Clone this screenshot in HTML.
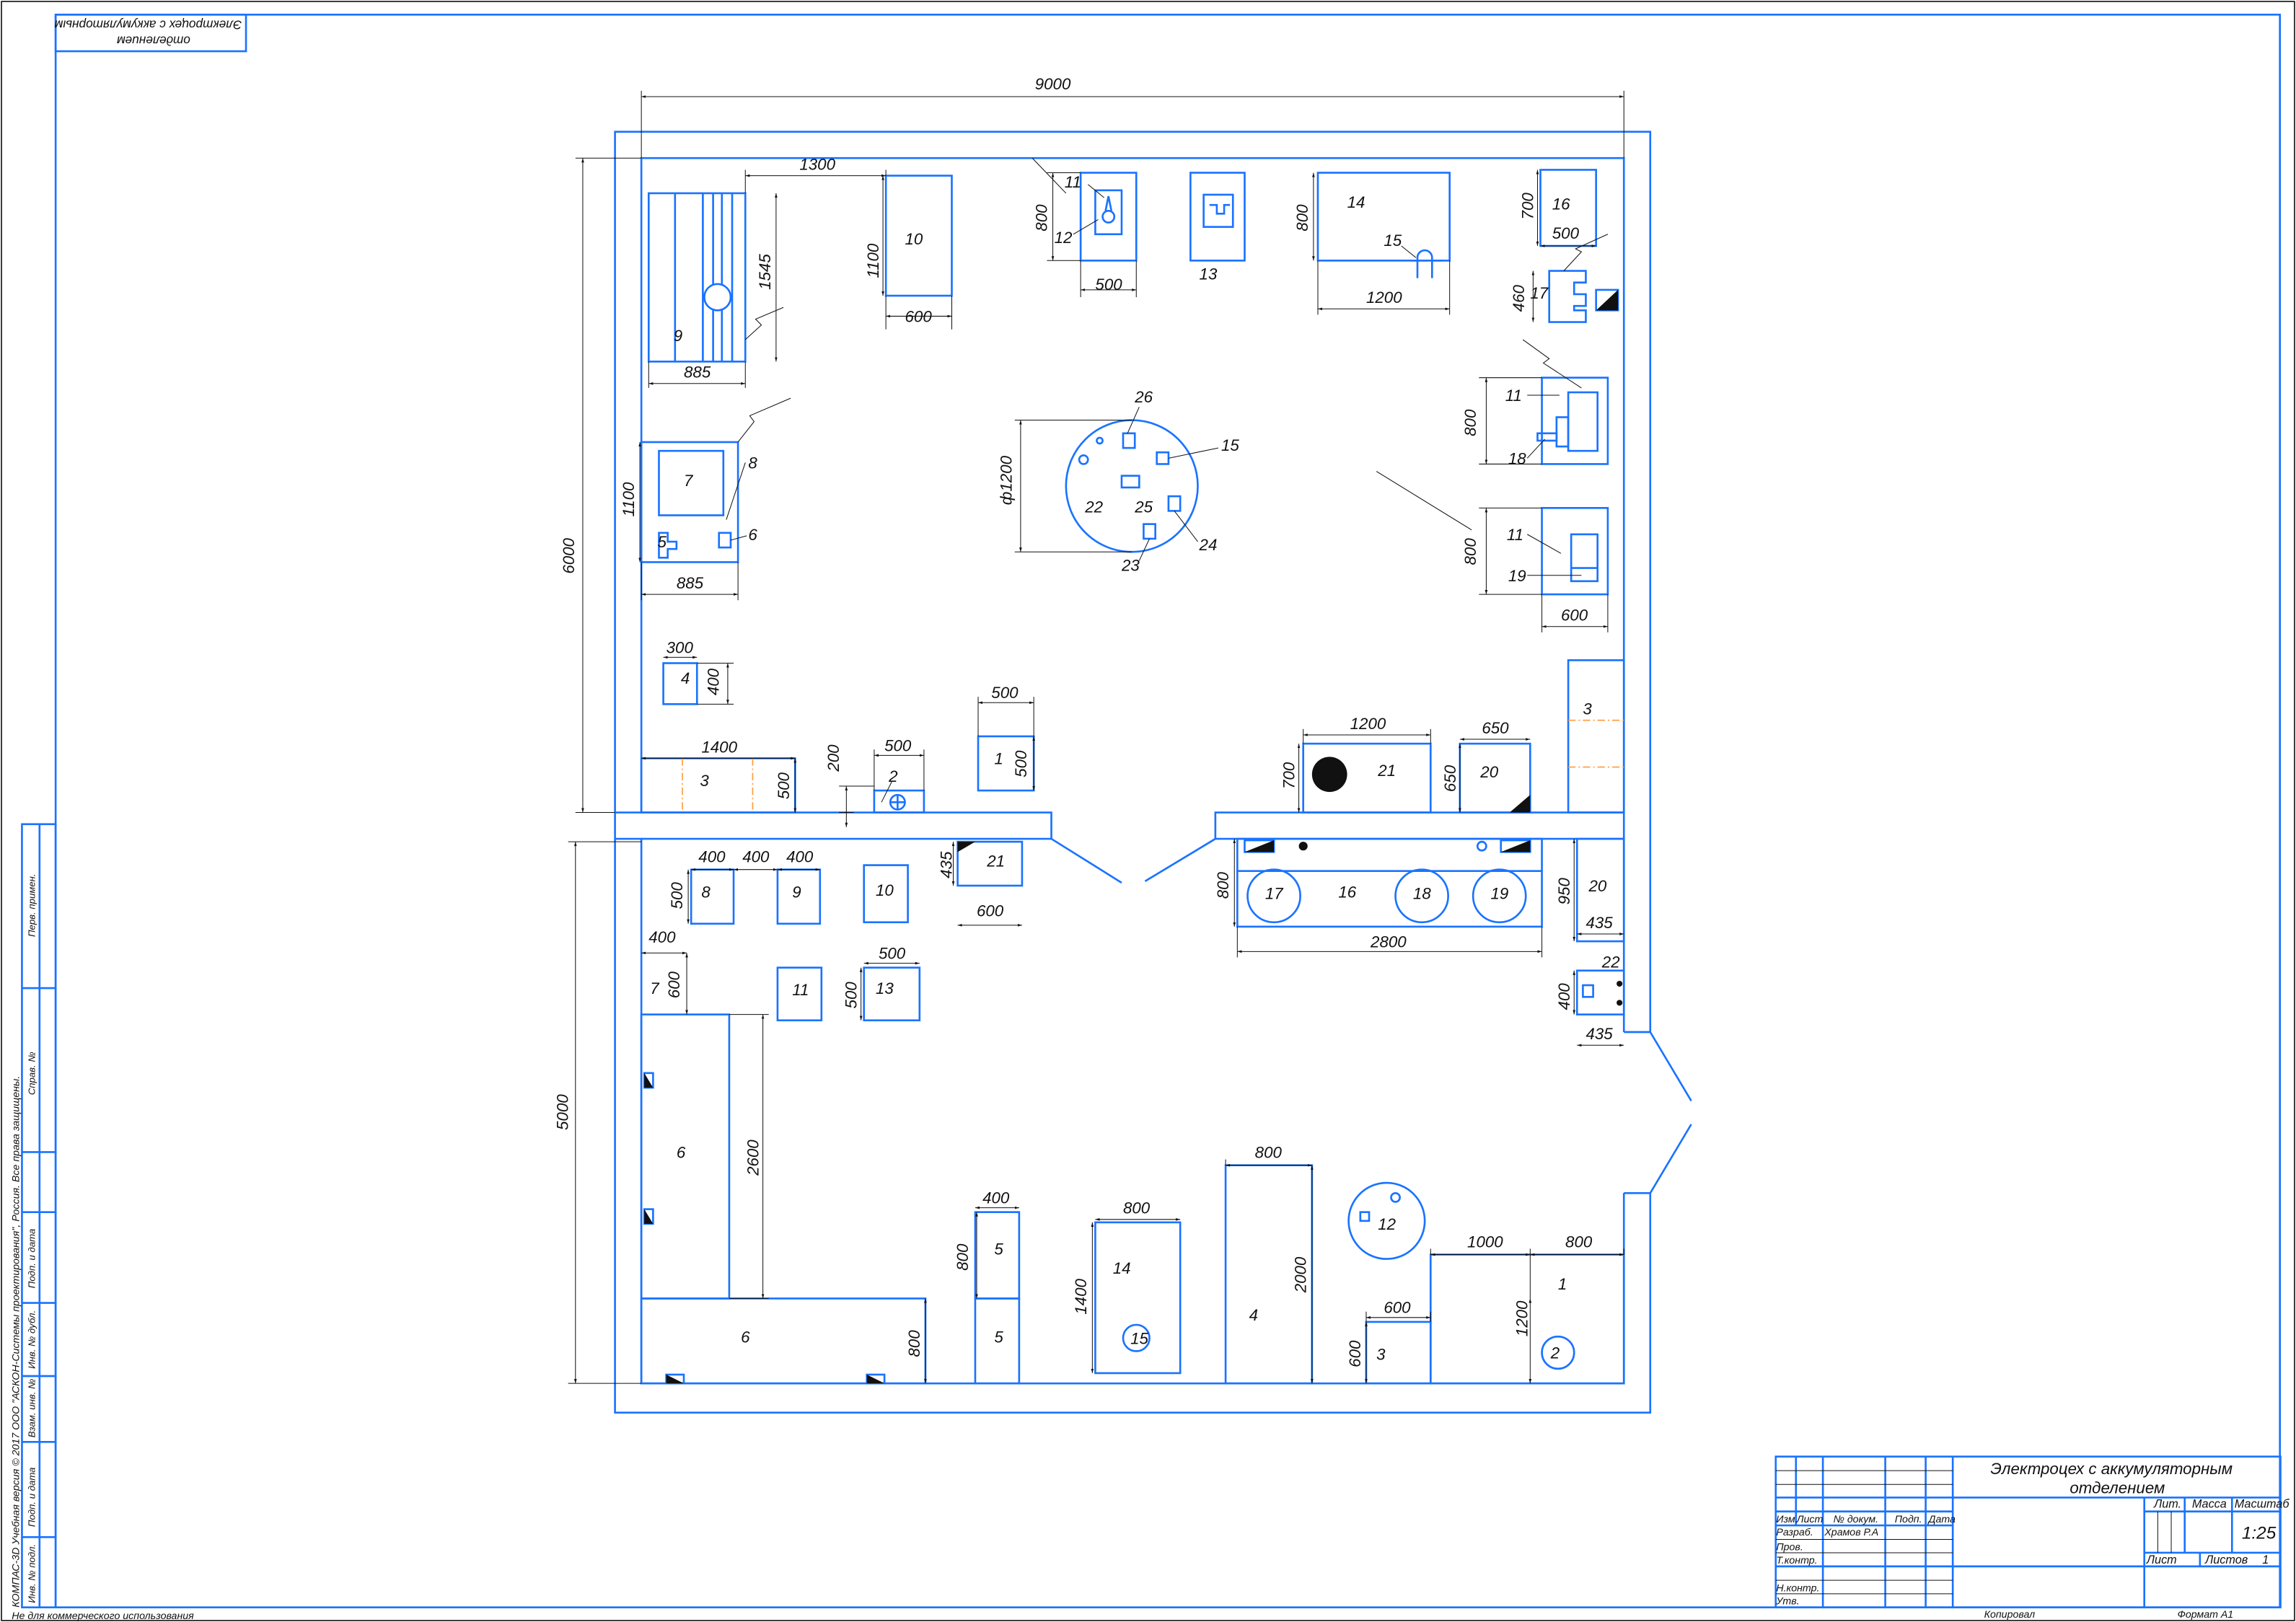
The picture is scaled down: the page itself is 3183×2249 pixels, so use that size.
<!DOCTYPE html>
<html><head><meta charset="utf-8"><style>
html,body{margin:0;padding:0;background:#fff;}
svg{display:block;}
text{font-family:"Liberation Sans","DejaVu Sans",sans-serif;font-style:italic;fill:#111;}
</style></head><body>
<svg width="3183" height="2249" viewBox="0 0 1568 1108" preserveAspectRatio="none" xmlns="http://www.w3.org/2000/svg">
<defs>
<marker id="a" viewBox="0 0 10 10" refX="10" refY="5" markerWidth="6" markerHeight="6" orient="auto-start-reverse"><path d="M0,2 L10,5 L0,8 z" fill="#111"/></marker>
</defs>
<rect x="0" y="0" width="1568" height="1108" fill="#fff"/>
<rect x="1" y="1" width="1566" height="1106" fill="none" stroke="#111" stroke-width="0.8"/>
<!-- frame -->
<g fill="none" stroke="#1a73ff" stroke-width="1.3">
<rect x="38" y="10" width="1519" height="1088"/>
<rect x="38" y="10" width="130" height="25"/>
<!-- left stamp -->
<rect x="15" y="563" width="23" height="535"/>
<line x1="27" y1="563" x2="27" y2="1098"/>
<line x1="15" y1="675" x2="38" y2="675"/>
<line x1="15" y1="787" x2="38" y2="787"/>
<line x1="15" y1="828" x2="38" y2="828"/>
<line x1="15" y1="890" x2="38" y2="890"/>
<line x1="15" y1="940" x2="38" y2="940"/>
<line x1="15" y1="985" x2="38" y2="985"/>
<line x1="15" y1="1050" x2="38" y2="1050"/>
<!-- title block -->
<rect x="1212.7" y="995" width="344.7" height="103"/>
<line x1="1226.5" y1="995" x2="1226.5" y2="1042"/>
<line x1="1244.9" y1="995" x2="1244.9" y2="1098"/>
<line x1="1287.5" y1="995" x2="1287.5" y2="1098"/>
<line x1="1315.1" y1="995" x2="1315.1" y2="1098"/>
<line x1="1333.6" y1="995" x2="1333.6" y2="1098"/>
<line x1="1212.7" y1="1023" x2="1333.6" y2="1023"/>
<line x1="1212.7" y1="1032.5" x2="1333.6" y2="1032.5"/>
<line x1="1212.7" y1="1042" x2="1333.6" y2="1042"/>
<line x1="1212.7" y1="1070" x2="1333.6" y2="1070"/>
<line x1="1333.6" y1="1023" x2="1557.4" y2="1023"/>
<line x1="1333.6" y1="1070" x2="1557.4" y2="1070"/>
<line x1="1464.4" y1="1023" x2="1464.4" y2="1098"/>
<line x1="1492" y1="1023" x2="1492" y2="1060.7"/>
<line x1="1524.3" y1="1023" x2="1524.3" y2="1060.7"/>
<line x1="1464.4" y1="1032.5" x2="1557.4" y2="1032.5"/>
<line x1="1464.4" y1="1060.7" x2="1557.4" y2="1060.7"/>
<line x1="1502.4" y1="1060.7" x2="1502.4" y2="1070"/>
</g>
<g stroke="#111" stroke-width="0.5">
<line x1="1212.7" y1="1004.6" x2="1333.6" y2="1004.6"/>
<line x1="1212.7" y1="1014" x2="1333.6" y2="1014"/>
<line x1="1212.7" y1="1051.6" x2="1333.6" y2="1051.6"/>
<line x1="1212.7" y1="1060.7" x2="1333.6" y2="1060.7"/>
<line x1="1212.7" y1="1079.5" x2="1333.6" y2="1079.5"/>
<line x1="1212.7" y1="1088.7" x2="1333.6" y2="1088.7"/>
<line x1="1473.6" y1="1032.5" x2="1473.6" y2="1060.7"/>
<line x1="1482.8" y1="1032.5" x2="1482.8" y2="1060.7"/>
</g>
<g font-size="7">
<text x="1213" y="1040">Изм.</text><text x="1227" y="1040">Лист</text><text x="1252" y="1040">№ докум.</text><text x="1294" y="1040">Подп.</text><text x="1317" y="1040">Дата</text>
<text x="1213" y="1049">Разраб.</text><text x="1246" y="1049">Храмов Р.А</text>
<text x="1213" y="1059">Пров.</text><text x="1213" y="1068">Т.контр.</text>
<text x="1213" y="1087">Н.контр.</text><text x="1213" y="1096">Утв.</text>
<text x="1471" y="1030" font-size="8">Лит.</text><text x="1497" y="1030" font-size="8">Масса</text><text x="1526" y="1030" font-size="8">Масштаб</text>
<text x="1466" y="1068" font-size="8">Лист</text><text x="1506" y="1068" font-size="8">Листов</text><text x="1545" y="1068" font-size="8">1</text>
</g>
<text x="1531" y="1051" font-size="12">1:25</text>
<text x="1442" y="1007" font-size="11" text-anchor="middle">Электроцех с аккумуляторным</text>
<text x="1446" y="1020" font-size="11" text-anchor="middle">отделением</text>
<text x="1355" y="1105" font-size="7">Копировал</text>
<text x="1487" y="1105" font-size="7">Формат      А1</text>
<text x="8" y="1106" font-size="7">Не для коммерческого использования</text>
<text transform="translate(13,1098) rotate(-90)" font-size="7">КОМПАС-3D Учебная версия © 2017 ООО "АСКОН-Системы проектирования", Россия. Все права защищены.</text>
<g font-size="6.5">
<text transform="translate(24,640) rotate(-90)">Перв. примен.</text>
<text transform="translate(24,748) rotate(-90)">Справ. №</text>
<text transform="translate(24,880) rotate(-90)">Подп. и дата</text>
<text transform="translate(24,935) rotate(-90)">Инв. № дубл.</text>
<text transform="translate(24,982) rotate(-90)">Взам. инв. №</text>
<text transform="translate(24,1043) rotate(-90)">Подп. и дата</text>
<text transform="translate(24,1095) rotate(-90)">Инв. № подл.</text>
</g>
<text transform="translate(165,14) rotate(180)" font-size="8.5">Электроцех с аккумуляторным</text>
<text transform="translate(130,25) rotate(180)" font-size="8.5">отделением</text>

<!-- walls -->
<g fill="none" stroke="#1a73ff" stroke-width="1.3">
<polyline points="1127,705 1127,90 420,90 420,965 1127,965 1127,815"/>
<polyline points="1109,705 1109,108 438,108 438,555 420,555"/>
<polyline points="1109,815 1109,945 438,945 438,573 420,573"/>
<polyline points="438,555 718,555 718,573 438,573"/>
<polyline points="1109,555 830,555 830,573 1109,573"/>
<line x1="1109" y1="705" x2="1127" y2="705"/><line x1="1109" y1="815" x2="1127" y2="815"/>
<line x1="718" y1="573" x2="766" y2="603"/><line x1="830" y1="573" x2="782" y2="602"/>
<line x1="1127" y1="705" x2="1155" y2="752"/><line x1="1127" y1="815" x2="1155" y2="768"/>

<!-- 9 -->
<rect x="443" y="132" width="66" height="115"/>
<line x1="461" y1="132" x2="461" y2="247"/><line x1="480" y1="132" x2="480" y2="247"/><line x1="487" y1="132" x2="487" y2="247"/><line x1="493" y1="132" x2="493" y2="247"/><line x1="500" y1="132" x2="500" y2="247"/>
<circle cx="490" cy="203" r="9" fill="#fff"/>
<!-- 10 -->
<rect x="605" y="120" width="45" height="82"/>
<!-- 11/12 -->
<rect x="738" y="118" width="38" height="60"/>
<rect x="748" y="130" width="18" height="30"/>
<circle cx="757" cy="148" r="4"/><path d="M755,144 L757,134 L759,144"/>
<!-- 13 -->
<rect x="813" y="118" width="37" height="60"/>
<rect x="822" y="133" width="20" height="22"/><path d="M826,140 h5 v6 h5 v-6 h4"/>
<!-- 14 -->
<rect x="900" y="118" width="90" height="60"/>
<path d="M968,190 v-14 a5,5 0 0 1 10,0 v14"/><line x1="963" y1="178" x2="985" y2="178"/>
<!-- 16 -->
<rect x="1052" y="116" width="38" height="52"/>
<!-- 17 -->
<path d="M1058,185 h25 v8 h-8 v8 h8 v8 h-8 v3 h8 v8 h-25 z"/>
<rect x="1090" y="198" width="15" height="14"/>
<!-- 11/18 -->
<rect x="1053" y="258" width="45" height="59"/>
<rect x="1071" y="268" width="20" height="40"/><rect x="1063" y="285" width="8" height="20"/><rect x="1050" y="296" width="13" height="5"/>
<!-- 11/19 -->
<rect x="1053" y="347" width="45" height="59"/>
<rect x="1073" y="365" width="18" height="32"/><line x1="1073" y1="388" x2="1091" y2="388"/>
<!-- 22 circle -->
<circle cx="773" cy="332" r="45"/>
<rect x="767" y="296" width="8" height="10"/><rect x="790" y="309" width="8" height="8"/><rect x="766" y="325" width="12" height="8"/>
<rect x="781" y="358" width="8" height="10"/><rect x="798" y="339" width="8" height="10"/>
<circle cx="740" cy="314" r="3"/><circle cx="751" cy="301" r="2"/>
<!-- 7/8 block -->
<rect x="438" y="302" width="66" height="82"/>
<rect x="450" y="308" width="44" height="44"/>
<rect x="491" y="364" width="8" height="10"/>
<path d="M450,364 h6 v6 h6 v5 h-6 v6 h-6 z"/>
<!-- 4 -->
<rect x="453" y="453" width="23" height="28"/>
<!-- 3 left -->
<rect x="438" y="518" width="105" height="37"/>
<!-- 2 -->
<rect x="597" y="540" width="34" height="15"/>
<circle cx="613" cy="548" r="5"/><line x1="608" y1="548" x2="618" y2="548"/><line x1="613" y1="543" x2="613" y2="553"/>
<!-- 1 -->
<rect x="668" y="503" width="38" height="37"/>
<!-- 21 right -->
<rect x="890" y="508" width="87" height="47"/>
<!-- 20 right -->
<rect x="997" y="508" width="48" height="47"/>
<!-- 3 right -->
<rect x="1071" y="451" width="38" height="104"/>
<!-- lower -->
<rect x="472" y="594" width="29" height="37"/>
<rect x="531" y="594" width="29" height="37"/>
<rect x="590" y="591" width="30" height="39"/>
<rect x="654" y="575" width="44" height="30"/>
<rect x="531" y="661" width="30" height="36"/>
<rect x="590" y="661" width="38" height="36"/>
<rect x="438" y="693" width="60" height="194"/>
<rect x="438" y="887" width="194" height="58"/>
<rect x="666" y="828" width="30" height="59"/>
<rect x="666" y="887" width="30" height="58"/>
<rect x="748" y="835" width="58" height="103"/>
<circle cx="776" cy="914" r="9"/>
<rect x="837" y="796" width="59" height="149"/>
<circle cx="947" cy="834" r="26"/><rect x="929" y="828" width="6" height="6"/><circle cx="953" cy="818" r="3"/>
<rect x="933" y="903" width="44" height="42"/>
<rect x="977" y="857" width="132" height="88"/>
<circle cx="1064" cy="924" r="11"/>
<rect x="845" y="573" width="208" height="60"/>
<line x1="845" y1="595" x2="1053" y2="595"/>
<circle cx="870" cy="612" r="18"/><circle cx="971" cy="612" r="18"/><circle cx="1024" cy="612" r="18"/>
<rect x="850" y="574" width="20" height="8"/><rect x="1025" y="574" width="20" height="8"/>
<circle cx="1012" cy="578" r="3"/>
<rect x="1077" y="573" width="32" height="70"/>
<rect x="1077" y="663" width="32" height="30"/>
<rect x="1081" y="673" width="7" height="8"/>
<rect x="440" y="733" width="6" height="10"/><rect x="440" y="826" width="6" height="10"/>
<rect x="455" y="939" width="12" height="6"/><rect x="592" y="939" width="12" height="6"/>
</g>
<!-- black fills -->
<g fill="#111">
<circle cx="908" cy="529" r="12"/>
<circle cx="890" cy="578" r="3"/>
<circle cx="1106" cy="672" r="2"/><circle cx="1106" cy="685" r="2"/>
<path d="M1090,212 L1105,198 L1105,212 z"/>
<path d="M1031,555 L1045,543 L1045,555 z"/>
<path d="M654,582 L654,575 L666,575 z"/>
<path d="M850,582 L870,574 L870,582 z"/><path d="M1025,582 L1045,574 L1045,582 z"/>
<path d="M440,733 L446,743 L440,743 z"/><path d="M440,826 L446,836 L440,836 z"/>
<path d="M455,939 L467,945 L455,945 z"/><path d="M592,939 L604,945 L592,945 z"/>
</g>
<!-- orange centerlines -->
<g stroke="#ff9a3c" stroke-width="0.8" stroke-dasharray="5,2,1,2">
<line x1="466" y1="518" x2="466" y2="555"/><line x1="514" y1="518" x2="514" y2="555"/>
<line x1="1071" y1="492" x2="1109" y2="492"/><line x1="1071" y1="524" x2="1109" y2="524"/>
</g>

<!-- dimension lines -->
<g stroke="#111" stroke-width="0.5" fill="none">
<g marker-start="url(#a)" marker-end="url(#a)">
<line x1="438" y1="66" x2="1109" y2="66"/>
<line x1="398" y1="108" x2="398" y2="555"/>
<line x1="393" y1="575" x2="393" y2="945"/>
<line x1="443" y1="262" x2="509" y2="262"/>
<line x1="530" y1="132" x2="530" y2="247"/>
<line x1="509" y1="120" x2="605" y2="120"/>
<line x1="603" y1="120" x2="603" y2="202"/>
<line x1="605" y1="216" x2="650" y2="216"/>
<line x1="719" y1="118" x2="719" y2="178"/>
<line x1="738" y1="198" x2="776" y2="198"/>
<line x1="897" y1="118" x2="897" y2="178"/>
<line x1="900" y1="211" x2="990" y2="211"/>
<line x1="1050" y1="116" x2="1050" y2="168"/>
<line x1="1052" y1="168" x2="1090" y2="168"/>
<line x1="1047" y1="185" x2="1047" y2="220"/>
<line x1="1015" y1="258" x2="1015" y2="317"/>
<line x1="1015" y1="347" x2="1015" y2="406"/>
<line x1="1053" y1="428" x2="1098" y2="428"/>
<line x1="697" y1="287" x2="697" y2="377"/>
<line x1="438" y1="406" x2="504" y2="406"/>
<line x1="437" y1="302" x2="437" y2="384"/>
<line x1="453" y1="449" x2="476" y2="449"/>
<line x1="497" y1="453" x2="497" y2="481"/>
<line x1="438" y1="518" x2="543" y2="518"/>
<line x1="543" y1="518" x2="543" y2="555"/>
<line x1="597" y1="516" x2="631" y2="516"/>
<line x1="668" y1="480" x2="706" y2="480"/>
<line x1="706" y1="503" x2="706" y2="540"/>
<line x1="890" y1="502" x2="977" y2="502"/>
<line x1="887" y1="508" x2="887" y2="555"/>
<line x1="997" y1="505" x2="1045" y2="505"/>
<line x1="997" y1="508" x2="997" y2="555"/>
<line x1="472" y1="594" x2="501" y2="594"/>
<line x1="501" y1="594" x2="531" y2="594"/>
<line x1="531" y1="594" x2="560" y2="594"/>
<line x1="470" y1="594" x2="470" y2="631"/>
<line x1="651" y1="575" x2="651" y2="605"/>
<line x1="654" y1="632" x2="698" y2="632"/>
<line x1="438" y1="651" x2="469" y2="651"/>
<line x1="469" y1="651" x2="469" y2="693"/>
<line x1="590" y1="658" x2="628" y2="658"/>
<line x1="588" y1="661" x2="588" y2="697"/>
<line x1="521" y1="693" x2="521" y2="887"/>
<line x1="632" y1="887" x2="632" y2="945"/>
<line x1="666" y1="825" x2="696" y2="825"/>
<line x1="667" y1="828" x2="667" y2="887"/>
<line x1="748" y1="833" x2="806" y2="833"/>
<line x1="746" y1="835" x2="746" y2="938"/>
<line x1="837" y1="796" x2="896" y2="796"/>
<line x1="896" y1="796" x2="896" y2="945"/>
<line x1="933" y1="900" x2="977" y2="900"/>
<line x1="933" y1="903" x2="933" y2="945"/>
<line x1="977" y1="857" x2="1045" y2="857"/>
<line x1="1045" y1="857" x2="1109" y2="857"/>
<line x1="1045" y1="887" x2="1045" y2="945"/>
<line x1="845" y1="650" x2="1053" y2="650"/>
<line x1="843" y1="573" x2="843" y2="633"/>
<line x1="1075" y1="573" x2="1075" y2="643"/>
<line x1="1077" y1="638" x2="1109" y2="638"/>
<line x1="1075" y1="663" x2="1075" y2="693"/>
<line x1="1077" y1="714" x2="1109" y2="714"/>
<line x1="578" y1="537" x2="578" y2="565"/>
</g>
<line x1="438" y1="62" x2="438" y2="108"/><line x1="1109" y1="62" x2="1109" y2="108"/>
<line x1="393" y1="108" x2="438" y2="108"/><line x1="393" y1="555" x2="420" y2="555"/>
<line x1="388" y1="575" x2="438" y2="575"/><line x1="388" y1="945" x2="438" y2="945"/>
<line x1="443" y1="247" x2="443" y2="265"/><line x1="509" y1="247" x2="509" y2="265"/>
<line x1="509" y1="116" x2="509" y2="132"/><line x1="605" y1="116" x2="605" y2="120"/>
<line x1="605" y1="202" x2="605" y2="225"/><line x1="650" y1="202" x2="650" y2="225"/>
<line x1="738" y1="178" x2="738" y2="203"/><line x1="776" y1="178" x2="776" y2="203"/>
<line x1="715" y1="118" x2="738" y2="118"/><line x1="715" y1="178" x2="738" y2="178"/>
<line x1="900" y1="178" x2="900" y2="215"/><line x1="990" y1="178" x2="990" y2="215"/>
<line x1="1010" y1="258" x2="1053" y2="258"/><line x1="1010" y1="317" x2="1053" y2="317"/>
<line x1="1010" y1="347" x2="1053" y2="347"/><line x1="1010" y1="406" x2="1053" y2="406"/>
<line x1="1053" y1="406" x2="1053" y2="432"/><line x1="1098" y1="406" x2="1098" y2="432"/>
<line x1="693" y1="287" x2="773" y2="287"/><line x1="693" y1="377" x2="773" y2="377"/>
<line x1="438" y1="384" x2="438" y2="410"/><line x1="504" y1="384" x2="504" y2="410"/>
<line x1="476" y1="453" x2="501" y2="453"/><line x1="476" y1="481" x2="501" y2="481"/>
<line x1="573" y1="537" x2="597" y2="537"/><line x1="573" y1="555" x2="583" y2="555"/>
<line x1="597" y1="512" x2="597" y2="540"/><line x1="631" y1="512" x2="631" y2="540"/>
<line x1="668" y1="476" x2="668" y2="503"/><line x1="706" y1="476" x2="706" y2="503"/>
<line x1="890" y1="498" x2="890" y2="508"/><line x1="977" y1="498" x2="977" y2="508"/>
<line x1="845" y1="633" x2="845" y2="654"/><line x1="1053" y1="633" x2="1053" y2="654"/>
<line x1="498" y1="693" x2="525" y2="693"/><line x1="498" y1="887" x2="525" y2="887"/>
<line x1="977" y1="853" x2="977" y2="857"/><line x1="1045" y1="853" x2="1045" y2="887"/><line x1="1109" y1="853" x2="1109" y2="857"/>
<line x1="933" y1="896" x2="933" y2="903"/><line x1="977" y1="896" x2="977" y2="903"/>
<line x1="837" y1="792" x2="837" y2="796"/>
<!-- leaders -->
<polyline points="509,232 520,222 516,218 535,210"/>
<polyline points="504,302 515,288 512,284 540,272"/>
<polyline points="1040,232 1058,245 1054,248 1080,265"/>
<polyline points="1068,185 1080,172 1076,170 1098,160"/>
<line x1="940" y1="322" x2="1005" y2="362"/>
<line x1="705" y1="108" x2="728" y2="132"/>
<line x1="733" y1="160" x2="750" y2="150"/>
<line x1="743" y1="126" x2="754" y2="135"/>
<line x1="1043" y1="270" x2="1065" y2="270"/><line x1="1043" y1="313" x2="1055" y2="300"/>
<line x1="1043" y1="365" x2="1066" y2="378"/><line x1="1043" y1="393" x2="1080" y2="393"/>
<line x1="957" y1="168" x2="967" y2="176"/>
<line x1="509" y1="316" x2="496" y2="355"/><line x1="510" y1="366" x2="499" y2="369"/>
<line x1="602" y1="548" x2="609" y2="534"/>
<line x1="770" y1="296" x2="778" y2="278"/><line x1="798" y1="313" x2="832" y2="306"/>
<line x1="802" y1="349" x2="818" y2="370"/><line x1="785" y1="368" x2="778" y2="383"/>
</g>

<!-- labels -->
<g font-size="11">
<text x="719" y="61" text-anchor="middle">9000</text>
<text transform="translate(392,392) rotate(-90)" text-anchor="start">6000</text>
<text transform="translate(388,772) rotate(-90)">5000</text>
<text x="546" y="116">1300</text>
<text x="467" y="258">885</text>
<text transform="translate(526,198) rotate(-90)">1545</text>
<text x="460" y="233">9</text>
<text x="618" y="167">10</text>
<text transform="translate(600,190) rotate(-90)">1100</text>
<text x="618" y="220">600</text>
<text x="727" y="128">11</text><text x="720" y="166">12</text>
<text transform="translate(715,158) rotate(-90)">800</text>
<text x="748" y="198">500</text>
<text x="819" y="191">13</text>
<text x="920" y="142">14</text><text x="945" y="168">15</text>
<text transform="translate(893,158) rotate(-90)">800</text>
<text x="933" y="207">1200</text>
<text x="1060" y="143">16</text>
<text transform="translate(1047,150) rotate(-90)">700</text>
<text x="1060" y="163">500</text>
<text x="1045" y="204">17</text>
<text transform="translate(1041,213) rotate(-90)">460</text>
<text x="1028" y="274">11</text><text x="1030" y="317">18</text>
<text transform="translate(1008,298) rotate(-90)">800</text>
<text x="1029" y="369">11</text><text x="1030" y="397">19</text>
<text transform="translate(1008,386) rotate(-90)">800</text>
<text x="1066" y="424">600</text>
<text transform="translate(691,345) rotate(-90)">ф1200</text>
<text x="775" y="275">26</text><text x="834" y="308">15</text><text x="775" y="350">25</text>
<text x="741" y="350">22</text><text x="766" y="390">23</text><text x="819" y="376">24</text>
<text x="467" y="332">7</text><text x="511" y="320">8</text><text x="511" y="369">6</text><text x="449" y="374">5</text>
<text transform="translate(433,353) rotate(-90)">1100</text>
<text x="462" y="402">885</text>
<text x="455" y="446">300</text>
<text x="465" y="467">4</text>
<text transform="translate(491,475) rotate(-90)">400</text>
<text x="479" y="514">1400</text>
<text x="478" y="537">3</text>
<text transform="translate(539,546) rotate(-90)">500</text>
<text transform="translate(573,527) rotate(-90)">200</text>
<text x="604" y="513">500</text>
<text x="607" y="534">2</text>
<text x="677" y="477">500</text>
<text x="679" y="522">1</text>
<text transform="translate(701,531) rotate(-90)">500</text>
<text x="922" y="498">1200</text>
<text transform="translate(884,539) rotate(-90)">700</text>
<text x="941" y="530">21</text>
<text x="1012" y="501">650</text>
<text transform="translate(994,541) rotate(-90)">650</text>
<text x="1011" y="531">20</text>
<text x="1081" y="488">3</text>
<text x="477" y="589">400</text><text x="507" y="589">400</text><text x="537" y="589">400</text>
<text x="479" y="613">8</text><text x="541" y="613">9</text><text x="598" y="612">10</text>
<text transform="translate(466,621) rotate(-90)">500</text>
<text transform="translate(650,600) rotate(-90)">435</text>
<text x="674" y="592">21</text>
<text x="667" y="626">600</text>
<text x="443" y="644">400</text>
<text x="444" y="679">7</text>
<text transform="translate(464,682) rotate(-90)">600</text>
<text x="541" y="680">11</text>
<text x="598" y="679">13</text>
<text x="600" y="655">500</text>
<text transform="translate(585,689) rotate(-90)">500</text>
<text x="462" y="791">6</text>
<text transform="translate(518,803) rotate(-90)">2600</text>
<text x="506" y="917">6</text>
<text transform="translate(628,927) rotate(-90)">800</text>
<text x="671" y="822">400</text>
<text transform="translate(661,868) rotate(-90)">800</text>
<text x="679" y="857">5</text><text x="679" y="917">5</text>
<text x="767" y="829">800</text>
<text transform="translate(742,898) rotate(-90)">1400</text>
<text x="760" y="870">14</text><text x="772" y="918">15</text>
<text x="857" y="791">800</text>
<text transform="translate(892,883) rotate(-90)">2000</text>
<text x="853" y="902">4</text>
<text x="941" y="840">12</text>
<text x="945" y="897">600</text>
<text transform="translate(929,934) rotate(-90)">600</text>
<text x="940" y="929">3</text>
<text x="1002" y="852">1000</text>
<text x="1069" y="852">800</text>
<text x="1064" y="881">1</text>
<text transform="translate(1043,913) rotate(-90)">1200</text>
<text x="1059" y="928">2</text>
<text x="936" y="647">2800</text>
<text transform="translate(839,614) rotate(-90)">800</text>
<text x="864" y="614">17</text><text x="914" y="613">16</text><text x="965" y="614">18</text><text x="1018" y="614">19</text>
<text transform="translate(1072,618) rotate(-90)">950</text>
<text x="1085" y="609">20</text>
<text x="1083" y="634">435</text>
<text x="1094" y="661">22</text>
<text transform="translate(1072,690) rotate(-90)">400</text>
<text x="1083" y="710">435</text>
</g>
</svg>
</body></html>
